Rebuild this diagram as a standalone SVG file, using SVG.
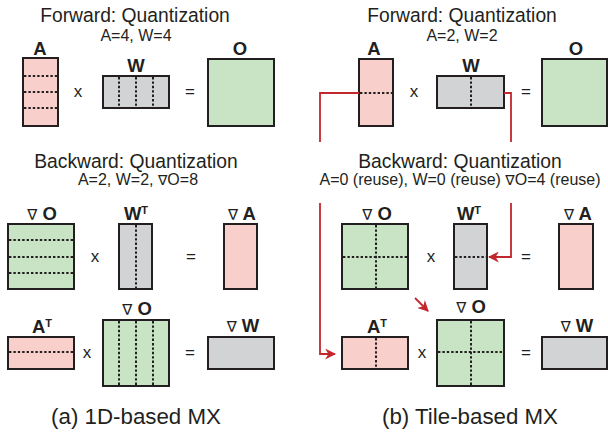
<svg xmlns="http://www.w3.org/2000/svg" width="608" height="433" viewBox="0 0 608 433">
<defs>
<style>
.bg{fill:#ffffff}
.mat{stroke:#231f20;stroke-width:2}
.pink{fill:#f9cfcb}
.green{fill:#c9e4c5}
.gray{fill:#d1d3d4}
.dot{stroke:#231f20;stroke-width:2;stroke-dasharray:2.4 2;fill:none}
.t{font-family:"Liberation Sans",Arial,sans-serif;fill:#231f20}
.title{font-size:19.3px}
.sub{font-size:16px}
.lbl{font-size:18.5px;font-weight:bold}
.op{font-size:17px}
.cap{font-size:22.3px}
.nab{font-family:"DejaVu Sans",sans-serif;font-weight:normal;font-size:15px}
.nabs{font-family:"DejaVu Sans",sans-serif;font-weight:normal;font-size:14px}
.sup{font-size:11px}
.red{stroke:#c1272d;stroke-width:1.8;fill:none}
</style>
<marker id="ah2" viewBox="0 0 10 10" refX="9" refY="5" markerWidth="11" markerHeight="11" orient="auto" markerUnits="userSpaceOnUse">
<path d="M0,0 L10,5 L0,10 L3,5 Z" fill="#c1272d"/>
</marker>
</defs>
<rect class="bg" x="0" y="0" width="608" height="433"/>

<!-- ===== Left panel (a) ===== -->
<g id="left-forward-titles">
<text class="t title" x="135" y="22" text-anchor="middle">Forward: Quantization</text>
<text class="t sub" x="136" y="41" text-anchor="middle">A=4, W=4</text>
</g>
<g id="a-fwd-A">
<text class="t lbl" x="40" y="55" text-anchor="middle">A</text>
<rect class="mat pink" x="23" y="58" width="35" height="68"/>
<path class="dot" d="M24,76H57M24,92H57M24,108H57"/>
</g>
<text class="t op" x="78" y="97" text-anchor="middle">x</text>
<g id="a-fwd-W">
<text class="t lbl" x="136" y="72" text-anchor="middle">W</text>
<rect class="mat gray" x="103" y="76" width="66" height="32"/>
<path class="dot" d="M119,77V107M136,77V107M153,77V107"/>
</g>
<text class="t op" x="190" y="97" text-anchor="middle">=</text>
<g id="a-fwd-O">
<text class="t lbl" x="240" y="55" text-anchor="middle">O</text>
<rect class="mat green" x="208" y="59" width="66" height="67"/>
</g>

<g id="left-backward-titles">
<text class="t title" x="136" y="168" text-anchor="middle">Backward: Quantization</text>
<text class="t sub" x="138" y="185" text-anchor="middle">A=2, W=2, <tspan class="nabs">∇</tspan>O=8</text>
</g>
<g id="a-bwd1-dO">
<text class="t lbl" x="42" y="220" text-anchor="middle"><tspan class="nab">∇</tspan> O</text>
<rect class="mat green" x="8" y="224" width="66" height="65"/>
<path class="dot" d="M9,240H73M9,257H73M9,273H73"/>
</g>
<text class="t op" x="95" y="262" text-anchor="middle">x</text>
<g id="a-bwd1-WT">
<text class="t lbl" x="136" y="220" text-anchor="middle">W<tspan class="sup" dy="-6">T</tspan></text>
<rect class="mat gray" x="119" y="224" width="33" height="65"/>
<path class="dot" d="M136,225V288"/>
</g>
<text class="t op" x="191" y="262" text-anchor="middle">=</text>
<g id="a-bwd1-dA">
<text class="t lbl" x="242" y="220" text-anchor="middle"><tspan class="nab">∇</tspan> A</text>
<rect class="mat pink" x="224" y="224" width="33" height="65"/>
</g>

<g id="a-bwd2-AT">
<text class="t lbl" x="42" y="333" text-anchor="middle">A<tspan class="sup" dy="-6">T</tspan></text>
<rect class="mat pink" x="8" y="337" width="66" height="32"/>
<path class="dot" d="M9,352H73"/>
</g>
<text class="t op" x="87" y="358" text-anchor="middle">x</text>
<g id="a-bwd2-dO">
<text class="t lbl" x="137" y="315" text-anchor="middle"><tspan class="nab">∇</tspan> O</text>
<rect class="mat green" x="103" y="320" width="66" height="66"/>
<path class="dot" d="M119,321V385M136,321V385M153,321V385"/>
</g>
<text class="t op" x="190" y="358" text-anchor="middle">=</text>
<g id="a-bwd2-dW">
<text class="t lbl" x="243" y="332" text-anchor="middle"><tspan class="nab">∇</tspan> W</text>
<rect class="mat gray" x="208" y="337" width="66" height="32"/>
</g>
<text id="caption-a" class="t cap" x="136" y="424" text-anchor="middle">(a) 1D-based MX</text>

<!-- ===== Right panel (b) ===== -->
<g id="right-forward-titles">
<text class="t title" x="462" y="22" text-anchor="middle">Forward: Quantization</text>
<text class="t sub" x="462" y="41" text-anchor="middle">A=2, W=2</text>
</g>
<g id="b-fwd-A">
<text class="t lbl" x="374" y="55" text-anchor="middle">A</text>
<rect class="mat pink" x="359" y="59" width="34" height="67"/>
<path class="dot" d="M360,93H392"/>
</g>
<text class="t op" x="414" y="97" text-anchor="middle">x</text>
<g id="b-fwd-W">
<text class="t lbl" x="471" y="72" text-anchor="middle">W</text>
<rect class="mat gray" x="437" y="76" width="67" height="32"/>
<path class="dot" d="M471,77V107"/>
</g>
<text class="t op" x="526" y="97" text-anchor="middle">=</text>
<g id="b-fwd-O">
<text class="t lbl" x="576" y="55" text-anchor="middle">O</text>
<rect class="mat green" x="542" y="59" width="65" height="67"/>
</g>

<g id="right-backward-titles">
<text class="t title" x="460" y="168" text-anchor="middle">Backward: Quantization</text>
<text class="t sub" x="460" y="185" text-anchor="middle">A=0 (reuse), W=0 (reuse) <tspan class="nabs">∇</tspan>O=4 (reuse)</text>
</g>
<g id="b-bwd1-dO">
<text class="t lbl" x="377" y="220" text-anchor="middle"><tspan class="nab">∇</tspan> O</text>
<rect class="mat green" x="342" y="224" width="66" height="65"/>
<path class="dot" d="M376,225V288M343,257H407"/>
</g>
<text class="t op" x="431" y="262" text-anchor="middle">x</text>
<g id="b-bwd1-WT">
<text class="t lbl" x="469" y="220" text-anchor="middle">W<tspan class="sup" dy="-6">T</tspan></text>
<rect class="mat gray" x="454" y="224" width="33" height="65"/>
<path class="dot" d="M455,257H486"/>
</g>
<text class="t op" x="526" y="262" text-anchor="middle">=</text>
<g id="b-bwd1-dA">
<text class="t lbl" x="578" y="220" text-anchor="middle"><tspan class="nab">∇</tspan> A</text>
<rect class="mat pink" x="559" y="224" width="34" height="65"/>
</g>

<g id="b-bwd2-AT">
<text class="t lbl" x="377" y="333" text-anchor="middle">A<tspan class="sup" dy="-6">T</tspan></text>
<rect class="mat pink" x="342" y="337" width="66" height="32"/>
<path class="dot" d="M376,338V368"/>
</g>
<text class="t op" x="422" y="358" text-anchor="middle">x</text>
<g id="b-bwd2-dO">
<text class="t lbl" x="471" y="313" text-anchor="middle"><tspan class="nab">∇</tspan> O</text>
<rect class="mat green" x="437" y="320" width="67" height="66"/>
<path class="dot" d="M471,321V385M438,352H503"/>
</g>
<text class="t op" x="526" y="358" text-anchor="middle">=</text>
<g id="b-bwd2-dW">
<text class="t lbl" x="577" y="332" text-anchor="middle"><tspan class="nab">∇</tspan> W</text>
<rect class="mat gray" x="542" y="337" width="65" height="32"/>
</g>
<text id="caption-b" class="t cap" x="470" y="424" text-anchor="middle">(b) Tile-based MX</text>

<g id="connectors">
<path class="red" d="M359,93H320V142"/>
<path class="red" d="M320,203V354H335" marker-end="url(#ah2)"/>
<path class="red" d="M504,93H511V142"/>
<path class="red" d="M511,203V257H489" marker-end="url(#ah2)"/>
<path class="red" d="M415,298L428,311" marker-end="url(#ah2)"/>
</g>
</svg>
